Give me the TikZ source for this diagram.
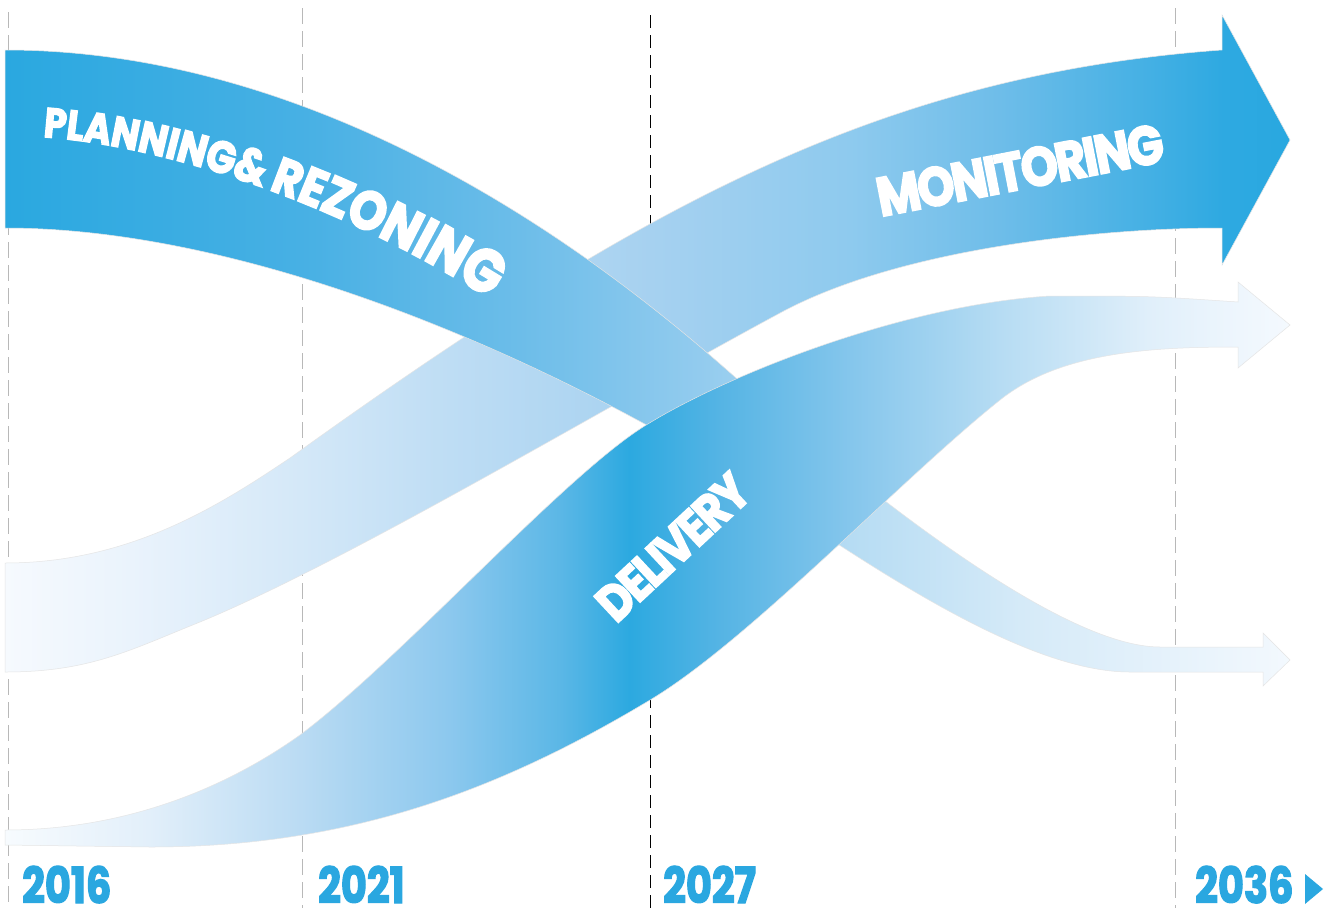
\documentclass[tikz,border=0pt]{standalone}
\usepackage{fontspec}
\usetikzlibrary{decorations.text}
\newfontfamily\lab{Poppins}[FakeStretch=0.86, FakeBold=3.2, LetterSpace=-4]
\newfontfamily\yrfont{Poppins}[FakeStretch=0.8, FakeBold=2.4]
\newcommand\labsz[1]{\lab\bfseries\fontsize{#1}{#1}\selectfont}

\definecolor{ybl}{HTML}{2AA7E0}
% planning
\definecolor{pa}{HTML}{2AA8E0}\definecolor{pb}{HTML}{47B0E4}\definecolor{pc}{HTML}{6CBDE9}
\definecolor{pd}{HTML}{92CBEE}\definecolor{pe}{HTML}{B6DCF3}\definecolor{pf}{HTML}{D5EAF8}
\definecolor{pg}{HTML}{F0F7FD}\definecolor{ph}{HTML}{F3F9FE}
% monitoring
\definecolor{ma}{HTML}{F6FAFE}\definecolor{mb}{HTML}{EAF3FC}\definecolor{mc}{HTML}{D4E8F8}
\definecolor{md}{HTML}{BEDDF4}\definecolor{me}{HTML}{A6D1F0}\definecolor{mf}{HTML}{8ECAEE}
\definecolor{mg}{HTML}{6EBDE9}\definecolor{mh}{HTML}{44B0E4}\definecolor{mi}{HTML}{2EA9E1}
\definecolor{mj}{HTML}{29A8E0}
% delivery
\definecolor{da}{HTML}{F7FBFE}\definecolor{db}{HTML}{E2EFFA}\definecolor{dc}{HTML}{BADBF3}
\definecolor{dd}{HTML}{8CC8EE}\definecolor{de}{HTML}{5BB7E6}\definecolor{df}{HTML}{2CA9E0}
\definecolor{dg}{HTML}{55B4E4}\definecolor{dh}{HTML}{85C6EC}\definecolor{di}{HTML}{B6DCF3}
\definecolor{dj}{HTML}{E0EFFA}\definecolor{dk}{HTML}{EEF6FD}\definecolor{dl}{HTML}{F4F9FE}

\pgfdeclarehorizontalshading{planshade}{100bp}{color(0bp)=(pa); color(25bp)=(pa);
  color(36.5bp)=(pb); color(45bp)=(pc); color(52bp)=(pd); color(57.9bp)=(pe);
  color(64.5bp)=(pf); color(74bp)=(pg); color(75bp)=(ph); color(100bp)=(ph)}
\pgfdeclarehorizontalshading{monshade}{100bp}{color(0bp)=(ma); color(25bp)=(ma);
  color(29.9bp)=(mb); color(36.5bp)=(mc); color(42.3bp)=(md); color(50.1bp)=(me);
  color(57.9bp)=(mf); color(63.7bp)=(mg); color(69.5bp)=(mh); color(72.4bp)=(mi);
  color(75bp)=(mj); color(100bp)=(mj)}
\pgfdeclarehorizontalshading{delshade}{100bp}{color(0bp)=(da); color(25bp)=(da);
  color(30.6bp)=(db); color(36.5bp)=(dc); color(42.3bp)=(dd); color(46.6bp)=(de);
  color(49.3bp)=(df); color(52.8bp)=(dg); color(57.9bp)=(dh); color(63.7bp)=(di);
  color(69.5bp)=(dj); color(73bp)=(dk); color(75bp)=(dl); color(100bp)=(dl)}

\begin{document}
\begin{tikzpicture}[x=1bp,y=-1bp,
  ribbon/.style={shade, draw=black!10, line width=0.5bp},
  greyline/.style={draw=black!28, line width=0.8bp, dash pattern=on 16bp off 7bp},
  blackline/.style={draw=black, line width=1bp, dash pattern=on 13bp off 7bp},
  yearlabel/.style={anchor=base west, inner sep=0pt, text=ybl,
    font=\yrfont\bfseries\fontsize{50}{50}\selectfont},
  bandlabel/.style={inner sep=0pt, text=white, font=\labsz{#1}}]
\useasboundingbox (0,0) rectangle (1328,908);
\fill[white] (0,0) rectangle (1328,908);

% timeline guides
\coordinate (g1t) at (8,12);    \coordinate (g1b) at (8,908);
\coordinate (g2t) at (302,8);   \coordinate (g2b) at (302,908);
\coordinate (g3t) at (650,15);  \coordinate (g3b) at (650,908);
\coordinate (g4t) at (1175,8);  \coordinate (g4b) at (1175,908);
\draw[greyline] (g1t) -- (g1b);
\draw[greyline] (g2t) -- (g2b);
\draw[blackline] (g3t) -- (g3b);
\draw[greyline] (g4t) -- (g4b);

% monitoring ribbon
\path[ribbon, shading=monshade]
  (5,563) .. controls (130,563) and (220,505) .. (290,458)
  .. controls (640,206) and (880,75) .. (1222,50)
  -- (1222,15) -- (1290,140) -- (1222,265) -- (1222,228)
  .. controls (1100,228) and (900,248) .. (780,313)
  .. controls (600,410) and (350,560) .. (200,622)
  .. controls (130,650) and (90,672) .. (5,672) -- cycle;

% planning ribbon
\path[ribbon, shading=planshade]
  (5,50) .. controls (250,50) and (500,170) .. (727,370)
  .. controls (863,490) and (1060,647) .. (1160,647) -- (1263,647)
  -- (1263,633) -- (1290,660) -- (1263,686) -- (1263,672) -- (1130,672)
  .. controls (1000,672) and (800,513) .. (700,455)
  .. controls (450,310) and (200,228) .. (5,228) -- cycle;

% delivery ribbon
\path[ribbon, shading=delshade]
  (5,830) .. controls (130,830) and (230,785) .. (300,735)
  .. controls (400,660) and (560,480) .. (643,427)
  .. controls (720,378) and (900,305) .. (1050,296)
  .. controls (1150,296) .. (1238,302)
  -- (1238,282) -- (1290,325) -- (1238,368) -- (1238,347)
  .. controls (1150,347) and (1060,352) .. (1000,400)
  .. controls (900,480) and (750,640) .. (650,700)
  .. controls (500,790) and (350,847) .. (150,847) -- (5,845) -- cycle;

% band labels
\path[decorate, decoration={text along path, text color=white,
    text={|\labsz{42}|PL|\labsz{43}|AN|\labsz{44}|NI|\labsz{45}|NG|\labsz{48}|{\&}|\labsz{51}| R|\labsz{53}|E|\labsz{54}|Z|\labsz{55}|O|\labsz{57}|N|\labsz{58}|I|\labsz{59}|N|\labsz{61}|G}}]
  (43,137) .. controls (180,147) and (360,212) .. (510,312) -- (620,400);
\node[bandlabel=55, rotate=11] (mon) at (1020,170) {MONITORING};
\node[bandlabel=51, rotate=43] (del) at (673,547) {DELIVERY};

% years
\node[yearlabel] (y16) at (22,903) {2016};
\node[yearlabel] (y21) at (318,903) {2021};
\node[yearlabel] (y27) at (663,903) {2027};
\node[yearlabel] (y36) at (1195,903) {2036};
\fill[ybl] (1305,874) -- (1323,889) -- (1305,904) -- cycle;
\end{tikzpicture}
\end{document}
